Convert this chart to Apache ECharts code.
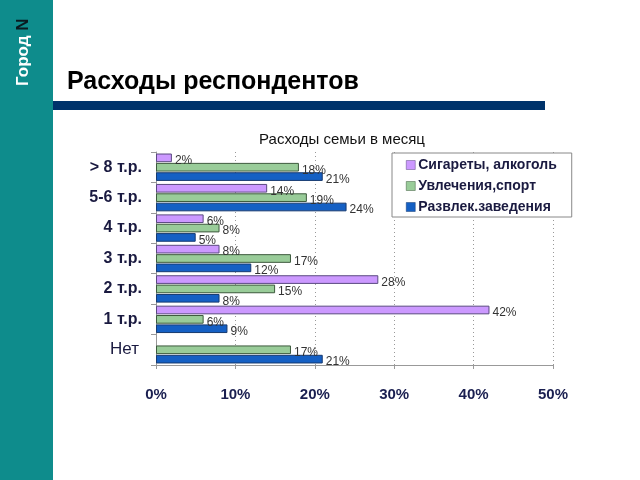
<!DOCTYPE html>
<html><head><meta charset="utf-8">
<script src="https://cdn.jsdelivr.net/npm/echarts@6/dist/echarts.min.js"></script>
<style>html,body{margin:0;padding:0;background:#fff}#c{width:640px;height:480px}</style>
</head><body><div id="c"></div>
<script>
var categories = ['> 8 т.р.', '5-6 т.р.', '4 т.р.', '3 т.р.', '2 т.р.', '1 т.р.', 'Нет'];
var seriesNames = ['Сигареты, алкоголь', 'Увлечения,спорт', 'Развлек.заведения'];
var cigarettes = [2, 14, 6, 8, 28, 42, null];
var hobbies = [18, 19, 8, 17, 15, 6, 17];
var venues = [21, 24, 5, 12, 8, 9, 21];
var xTicks = [0, 10, 20, 30, 40, 50];

var chart = echarts.init(document.getElementById('c'));
var colors = ['#cc99ff', '#99cc99', '#1560c4'];
var borders = ['#5a4a80', '#3d5a3d', '#173a70'];
function mk(i, data) {
  return {
    name: seriesNames[i], type: 'bar', data: data,
    barGap: '8%', barCategoryGap: '10%',
    itemStyle: { color: colors[i], borderColor: borders[i], borderWidth: 1 },
    label: { show: true, position: 'right', distance: 3, formatter: function(p){ return p.value + '%'; },
      fontFamily: 'Liberation Sans, Arial', fontSize: 12, color: '#333', offset: [0, 3] }
  };
}
chart.setOption({
  animation: false,
  title: { text: 'Расходы семьи в месяц', left: 337, top: 127, textAlign: 'center',
    textStyle: { fontFamily: 'Liberation Sans, Arial', fontSize: 15, fontWeight: 'normal', color: '#111' } },
  legend: {
    orient: 'vertical', left: 392, top: 153,
    padding: [5, 15, 3, 14], itemGap: 7,
    backgroundColor: '#fff', borderColor: '#888', borderWidth: 1,
    itemWidth: 9, itemHeight: 9, icon: 'rect',
    itemStyle: { borderWidth: 0.5 },
    textStyle: { fontFamily: 'Liberation Sans, Arial', fontSize: 14, lineHeight: 14, fontWeight: 'bold', color: '#1a1a40', padding: [0, 0, 0, -2] },
    data: seriesNames
  },
  grid: { left: 156, right: 87, top: 152, bottom: 115 },
  xAxis: {
    type: 'value', min: 0, max: 50, interval: 10,
    axisLine: { show: true, lineStyle: { color: '#999' } },
    axisTick: { show: true, length: 4, inside: false, lineStyle: { color: '#999' } },
    splitLine: { show: true, lineStyle: { color: '#999', type: [1, 3] } },
    axisLabel: { margin: 22, formatter: function(v){ return xTicks.indexOf(v) >= 0 ? v + '%' : ''; },
      fontFamily: 'Liberation Sans, Arial', fontSize: 15, fontWeight: 'bold', color: '#1a1f50' }
  },
  yAxis: {
    type: 'category', data: categories, inverse: true,
    axisLine: { show: true, lineStyle: { color: '#999' } },
    axisTick: { show: true, length: 5, lineStyle: { color: '#999' } },
    axisLabel: { margin: 14, fontFamily: 'Liberation Sans, Arial', fontSize: 16, fontWeight: 'bold', color: '#1a1a40',
      formatter: function(v){ return v === 'Нет' ? '{n|' + v + '}' : v; },
      rich: { n: { fontFamily: 'Liberation Sans, Arial', fontSize: 17, fontWeight: 'normal', color: '#1a1a40', padding: [0, 3, 0, 0] } } }
  },
  series: [mk(0, cigarettes), mk(1, hobbies), mk(2, venues)],
  graphic: [
    { type: 'rect', shape: { x: 0, y: 0, width: 53, height: 480 }, style: { fill: '#0e8c8c' }, z: -1 },
    { type: 'rect', shape: { x: 53, y: 101, width: 492, height: 9 }, style: { fill: '#00336b' } },
    { type: 'text', x: 67, y: 70, style: { text: 'Расходы респондентов', fontFamily: 'Liberation Sans, Arial', fontSize: 25, fontWeight: 'bold', fill: '#000' } },
    { type: 'text', x: 15, y: 86, rotation: Math.PI / 2, style: {
      text: '{a|Город }{b|N}', verticalAlign: 'top',
      rich: { a: { fontFamily: 'Liberation Sans, Arial', fontSize: 17, fontWeight: 'bold', fill: '#fff' },
              b: { fontFamily: 'Liberation Sans, Arial', fontSize: 17, fontWeight: 'bold', fill: '#0a1a20' } } } }
  ]
});
</script></body></html>
